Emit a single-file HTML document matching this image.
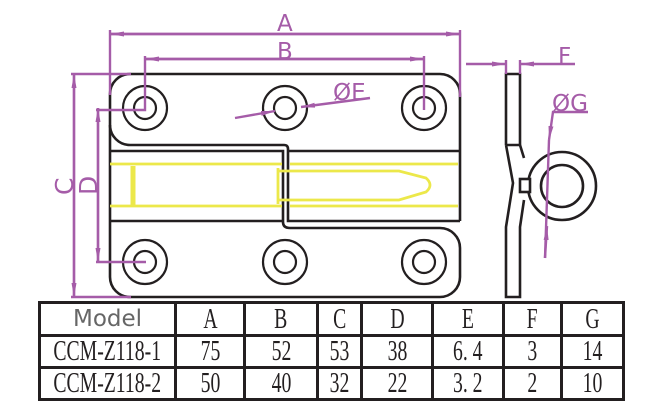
<!DOCTYPE html>
<html><head><meta charset="utf-8"><style>
body{margin:0;background:#fff;}
svg{display:block}
.k{stroke:#231f20;stroke-width:2.6;fill:none}
.p{stroke:#a55ca8;stroke-width:2.4;fill:none}
.y{stroke:#ece84a;stroke-width:2.8;fill:none}
.pt{fill:#a55ca8;font-family:"DejaVu Sans","Liberation Sans",sans-serif;}
td{border:3px solid #231f20;text-align:center;font-family:"Liberation Serif",serif;font-size:29px;padding:0;color:#231f20;line-height:1;overflow:hidden}
td span{display:inline-block;transform:scaleX(0.68);white-space:nowrap}
</style></head><body>
<div style="position:relative;width:654px;height:412px;overflow:hidden">
<svg width="654" height="412" style="position:absolute;left:0;top:0">
<defs><marker id="a" markerWidth="14" markerHeight="8" refX="14" refY="4" orient="auto" markerUnits="userSpaceOnUse"><path d="M0,1.5 L14,4 L0,6.5 z" fill="#a55ca8"/></marker></defs>
<path class="k" d="M130,74 H440 A20,20 0 0 1 460,94 V221"/>
<path class="k" d="M110,94 A20,20 0 0 1 130,74"/>
<path class="k" d="M110,94 V277 A20,20 0 0 0 130,297 H440 A20,20 0 0 0 460,277 V248 A20,20 0 0 0 440,228 H290 Q283,228 283,222"/>
<path class="k" d="M110,125 A20,20 0 0 0 130,145 H284 Q288,145 288,149 V151"/>
<path class="k" d="M110,151 H283 V221 H110"/>
<path class="k" d="M288,151 H460 M288,151 V221 H460"/>
<g class="k" style="stroke-width:2.2">
<circle cx="145" cy="108" r="22"/><circle cx="145" cy="108" r="11"/>
<circle cx="285" cy="108" r="22"/><circle cx="285" cy="108" r="11"/>
<circle cx="424" cy="108" r="22"/><circle cx="424" cy="108" r="11"/>
<circle cx="145" cy="262" r="22"/><circle cx="145" cy="262" r="11"/>
<circle cx="285" cy="262" r="22"/><circle cx="285" cy="262" r="11"/>
<circle cx="424" cy="262" r="22"/><circle cx="424" cy="262" r="11"/>
</g>
<path class="y" d="M110,164 H282 M110,206 H282 M290,164 H458 M290,206 H458"/>
<path class="y" style="stroke-width:5" d="M133,166 V205"/>
<path class="y" d="M278,168 V204 M278,171 H399 L426,178 Q434,185 426,192 L399,200 H278"/>
<path class="k" d="M506,145 V74 H520 V145 H506"/>
<path class="k" d="M506,145 L513,183 L506,227 V297 H520 V227 L524,200"/>
<path class="k" d="M520,145 L524,158"/>
<circle class="k" cx="562" cy="186" r="34"/>
<circle class="k" cx="562" cy="186" r="21"/>
<rect class="k" x="520" y="179" width="10" height="13" style="fill:#fff"/>
<path class="p" d="M460,34 H110" marker-end="url(#a)"/>
<path class="p" d="M110,34 H460" marker-end="url(#a)"/>
<path class="p" d="M110,30 V95 M460,30 V97"/>
<path class="p" d="M424,59 H145" marker-end="url(#a)"/>
<path class="p" d="M145,59 H424" marker-end="url(#a)"/>
<path class="p" d="M145,56 V110 H96 M424,56 V110"/>
<path class="p" d="M74,297 V74" marker-end="url(#a)"/>
<path class="p" d="M74,74 V297" marker-end="url(#a)"/>
<path class="p" d="M71,74 H131 M71,297 H131"/>
<path class="p" d="M98,262 V108" marker-end="url(#a)"/>
<path class="p" d="M98,108 V262" marker-end="url(#a)"/>
<path class="p" d="M96,262 H146"/>
<path class="p" d="M235,118 L275,111" marker-end="url(#a)"/>
<path class="p" d="M370,98 L301,107" marker-end="url(#a)"/>
<path class="p" d="M466,64 H506" marker-end="url(#a)"/>
<path class="p" d="M575,64 H520" marker-end="url(#a)"/>
<path class="p" d="M506,60 V74 M520,60 V74"/>
<path class="p" d="M588,112 H553 L549,140" marker-end="url(#a)"/>
<path class="p" d="M549,140 L545,258"/>
<path class="p" d="M545,258 L547,226" marker-end="url(#a)"/>
<text class="pt" x="277" y="31" font-size="23">A</text>
<text class="pt" x="277" y="59" font-size="23">B</text>
<text class="pt" x="333" y="100" font-size="23">ØE</text>
<text class="pt" x="558" y="64" font-size="23">F</text>
<text class="pt" x="552" y="111" font-size="23">ØG</text>
<text class="pt" font-size="25" transform="translate(73,195) rotate(-90)">C</text>
<text class="pt" font-size="25" transform="translate(97,195) rotate(-90)">D</text>
</svg>
<table style="position:absolute;left:38px;top:301px;width:587px;height:97px;border-collapse:collapse;background:#fff;table-layout:fixed">
<tr style="height:33px"><td style="width:133px;font-family:'DejaVu Sans','Liberation Sans',sans-serif;color:#666;font-size:23px">Model</td><td style="width:66px"><span>A</span></td><td style="width:70px"><span>B</span></td><td style="width:41px"><span>C</span></td><td style="width:68px"><span>D</span></td><td style="width:68px"><span>E</span></td><td style="width:55px"><span>F</span></td><td><span>G</span></td></tr>
<tr><td><span style="margin-left:-30px;margin-right:-30px">CCM-Z118-1</span></td><td><span>75</span></td><td><span>52</span></td><td><span>53</span></td><td><span>38</span></td><td><span>6. 4</span></td><td><span>3</span></td><td><span>14</span></td></tr>
<tr><td><span style="margin-left:-30px;margin-right:-30px">CCM-Z118-2</span></td><td><span>50</span></td><td><span>40</span></td><td><span>32</span></td><td><span>22</span></td><td><span>3. 2</span></td><td><span>2</span></td><td><span>10</span></td></tr>
</table>
</div>
</body></html>
